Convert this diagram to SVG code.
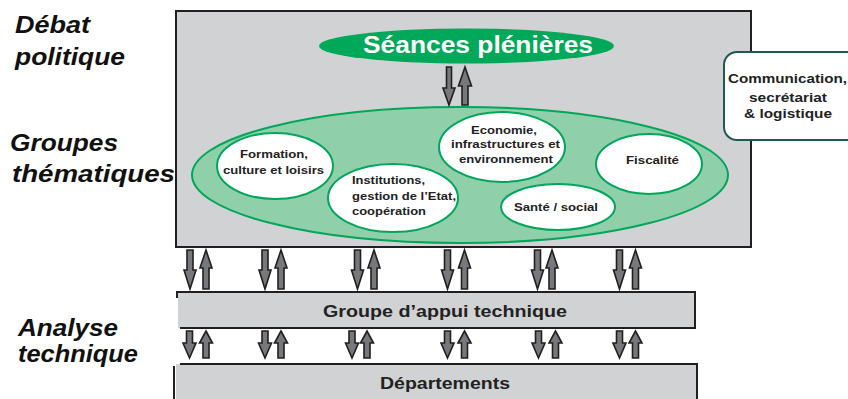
<svg xmlns="http://www.w3.org/2000/svg" width="848" height="399" viewBox="0 0 848 399">
<style>
.lbl{font-family:"Liberation Sans",Arial,sans-serif;font-weight:bold;font-style:italic;font-size:23px;fill:#111}
.t{font-family:"Liberation Sans",Arial,sans-serif;font-weight:bold;fill:#222}
.s{font-size:11px}
.arr{fill:#77787b;stroke:#231f20;stroke-width:1.6;stroke-linejoin:miter}
.gray{fill:#d1d2d4}
.edge{fill:none;stroke:#231f20;stroke-width:2}
.inner{fill:#fff;stroke:#00a65a;stroke-width:2}
</style>
<rect width="848" height="399" fill="#fff"/>
<g id="labels">
<text class="lbl" x="15" y="33" textLength="75" lengthAdjust="spacingAndGlyphs">Débat</text>
<text class="lbl" x="15" y="65" textLength="110" lengthAdjust="spacingAndGlyphs">politique</text>
<text class="lbl" x="10" y="151" textLength="108" lengthAdjust="spacingAndGlyphs">Groupes</text>
<text class="lbl" x="12" y="182" textLength="163" lengthAdjust="spacingAndGlyphs">thématiques</text>
<text class="lbl" x="18" y="336" textLength="100" lengthAdjust="spacingAndGlyphs">Analyse</text>
<text class="lbl" x="18" y="362" textLength="120" lengthAdjust="spacingAndGlyphs">technique</text>
</g>
<g id="main">
<rect x="176" y="11" width="575" height="236" class="gray" stroke="#231f20" stroke-width="2"/>
</g>
<g id="comm">
<rect x="724" y="52" width="140" height="88" rx="13" fill="#fff" stroke="#1e5a52" stroke-width="2"/>
<text class="t" font-size="13.5" x="728" y="83" textLength="119" lengthAdjust="spacingAndGlyphs">Communication,</text>
<text class="t" font-size="13.5" x="749" y="102" textLength="78" lengthAdjust="spacingAndGlyphs">secrétariat</text>
<text class="t" font-size="13.5" x="744" y="118" textLength="88" lengthAdjust="spacingAndGlyphs">&amp; logistique</text>
</g>
<g id="seances">
<ellipse cx="466.5" cy="46" rx="147.5" ry="17.5" fill="#00a85a"/>
<text class="t" x="363" y="53" font-size="23" style="fill:#fff" textLength="230" lengthAdjust="spacingAndGlyphs">Séances plénières</text>
</g>
<g id="thematiques">
<ellipse cx="460" cy="175" rx="268" ry="68" fill="#8fd0aa" stroke="#00a65a" stroke-width="2"/>
</g>
<g id="formation">
<ellipse cx="275" cy="166" rx="58" ry="33" class="inner"/>
<text class="t s" x="240" y="158" textLength="68" lengthAdjust="spacingAndGlyphs">Formation,</text>
<text class="t s" x="223" y="174" textLength="101" lengthAdjust="spacingAndGlyphs">culture et loisirs</text>
</g>
<g id="institutions">
<ellipse cx="393" cy="198" rx="65" ry="34" class="inner"/>
<text class="t s" x="352" y="184" textLength="73" lengthAdjust="spacingAndGlyphs">Institutions,</text>
<text class="t s" x="352" y="200" textLength="104" lengthAdjust="spacingAndGlyphs">gestion de l’Etat,</text>
<text class="t s" x="352" y="215" textLength="74" lengthAdjust="spacingAndGlyphs">coopération</text>
</g>
<g id="economie">
<ellipse cx="502" cy="147" rx="63" ry="35" class="inner"/>
<text class="t s" x="471" y="134" textLength="66" lengthAdjust="spacingAndGlyphs">Economie,</text>
<text class="t s" x="451" y="148" textLength="109" lengthAdjust="spacingAndGlyphs">infrastructures et</text>
<text class="t s" x="459" y="163" textLength="94" lengthAdjust="spacingAndGlyphs">environnement</text>
</g>
<g id="sante">
<ellipse cx="558" cy="207" rx="57" ry="23" class="inner"/>
<text class="t s" x="514" y="211" textLength="84" lengthAdjust="spacingAndGlyphs">Santé / social</text>
</g>
<g id="fiscalite">
<ellipse cx="649" cy="164" rx="53" ry="30" class="inner"/>
<text class="t s" x="626" y="164" textLength="53" lengthAdjust="spacingAndGlyphs">Fiscalité</text>
</g>
<g id="appui">
<rect x="178" y="292" width="517" height="36" class="gray"/>
<path class="edge" d="M177,298 V292 H695 V328 H180"/>
<text class="t" font-size="16.5" x="323" y="317" textLength="244" lengthAdjust="spacingAndGlyphs">Groupe d’appui technique</text>
</g>
<g id="departements">
<rect x="176" y="364" width="521" height="40" class="gray"/>
<path class="edge" d="M174,366 V400 M180,364 H697 V400"/>
<text class="t" font-size="17" x="380" y="389" textLength="130" lengthAdjust="spacingAndGlyphs">Départements</text>
</g>
<g id="connectors">
<path class="arr" d="M446.5,67 H451.5 V88 H455 L449,105 L443,88 H446.5 Z"/>
<path class="arr" d="M465,67 L471.5,86 H468 V105 H462 V86 H458.5 Z"/>
<path class="arr" d="M187,250 H193 V270 H196 L190,289 L184,270 H187 Z"/>
<path class="arr" d="M206,250 L212,268 H209 V289 H203 V268 H200 Z"/>
<path class="arr" d="M262,250 H268 V270 H271 L265,289 L259,270 H262 Z"/>
<path class="arr" d="M281,250 L287,268 H284 V289 H278 V268 H275 Z"/>
<path class="arr" d="M354.5,250 H360.5 V270 H363.5 L357.5,289 L351.5,270 H354.5 Z"/>
<path class="arr" d="M374,250 L380,268 H377 V289 H371 V268 H368 Z"/>
<path class="arr" d="M444.5,250 H450.5 V270 H453.5 L447.5,289 L441.5,270 H444.5 Z"/>
<path class="arr" d="M464.5,250 L470.5,268 H467.5 V289 H461.5 V268 H458.5 Z"/>
<path class="arr" d="M534.5,250 H540.5 V270 H543.5 L537.5,289 L531.5,270 H534.5 Z"/>
<path class="arr" d="M552,250 L558,268 H555 V289 H549 V268 H546 Z"/>
<path class="arr" d="M616.5,250 H622.5 V270 H625.5 L619.5,289 L613.5,270 H616.5 Z"/>
<path class="arr" d="M635.5,250 L641.5,268 H638.5 V289 H632.5 V268 H629.5 Z"/>
<path class="arr" d="M186.5,331 H192.5 V343 H196 L189.5,358 L183,343 H186.5 Z"/>
<path class="arr" d="M206,331 L212.5,343 H209 V358 H203 V343 H199.5 Z"/>
<path class="arr" d="M262,331 H268 V343 H271.5 L265,358 L258.5,343 H262 Z"/>
<path class="arr" d="M281,331 L287.5,343 H284 V358 H278 V343 H274.5 Z"/>
<path class="arr" d="M349,331 H355 V343 H358.5 L352,358 L345.5,343 H349 Z"/>
<path class="arr" d="M367,331 L373.5,343 H370 V358 H364 V343 H360.5 Z"/>
<path class="arr" d="M444.5,331 H450.5 V343 H454 L447.5,358 L441,343 H444.5 Z"/>
<path class="arr" d="M464.5,331 L471,343 H467.5 V358 H461.5 V343 H458 Z"/>
<path class="arr" d="M535.5,331 H541.5 V343 H545 L538.5,358 L532,343 H535.5 Z"/>
<path class="arr" d="M555.5,331 L562,343 H558.5 V358 H552.5 V343 H549 Z"/>
<path class="arr" d="M616.5,331 H622.5 V343 H626 L619.5,358 L613,343 H616.5 Z"/>
<path class="arr" d="M635.5,331 L642,343 H638.5 V358 H632.5 V343 H629 Z"/>
</g>
</svg>
